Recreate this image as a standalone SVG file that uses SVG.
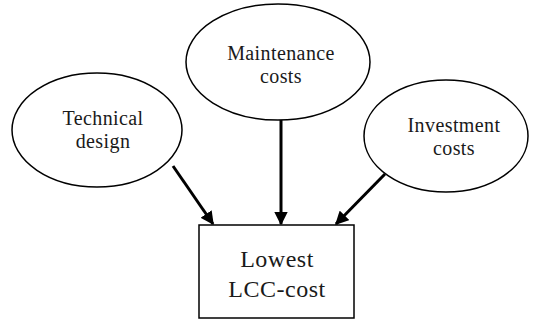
<svg xmlns="http://www.w3.org/2000/svg" width="534" height="320" viewBox="0 0 534 320">
  <style>
    .shape { fill: #ffffff; stroke: #000000; stroke-width: 1.5; }
    .label { font-family: "Liberation Serif", "Times New Roman", serif; font-size: 20px; letter-spacing: 0.4px; fill: #1a1a1a; text-anchor: middle; }
    .big { font-size: 24px; letter-spacing: 0.5px; }
    .link { stroke: #000000; stroke-width: 3; fill: none; marker-end: url(#head); }
  </style>
  <defs>
    <marker id="head" viewBox="0 0 10 10" refX="9" refY="5" markerWidth="4.5" markerHeight="4.5" markerUnits="strokeWidth" orient="auto">
      <path d="M0,0 L10,5 L0,10 Z" fill="#000000"/>
    </marker>
  </defs>
  <rect width="534" height="320" fill="#ffffff"/>

  <g id="technical-design">
    <ellipse class="shape" cx="97" cy="130" rx="85" ry="57"/>
    <text class="label" x="103" y="125">Technical</text>
    <text class="label" x="103" y="148">design</text>
  </g>

  <g id="maintenance-costs">
    <ellipse class="shape" cx="278" cy="62" rx="92" ry="58"/>
    <text class="label" x="281" y="60">Maintenance</text>
    <text class="label" x="281" y="83">costs</text>
  </g>

  <g id="investment-costs">
    <ellipse class="shape" cx="446" cy="136" rx="82" ry="56"/>
    <text class="label" x="454" y="132">Investment</text>
    <text class="label" x="454" y="155">costs</text>
  </g>

  <g id="lowest-lcc-cost">
    <rect class="shape" x="199" y="225" width="155" height="93"/>
    <text class="label big" x="277" y="267">Lowest</text>
    <text class="label big" x="277" y="297">LCC-cost</text>
  </g>

  <g id="connectors">
    <line class="link" x1="173" y1="166" x2="213" y2="224"/>
    <line class="link" x1="281" y1="120" x2="281" y2="224"/>
    <line class="link" x1="385" y1="174" x2="336" y2="224"/>
  </g>
</svg>
